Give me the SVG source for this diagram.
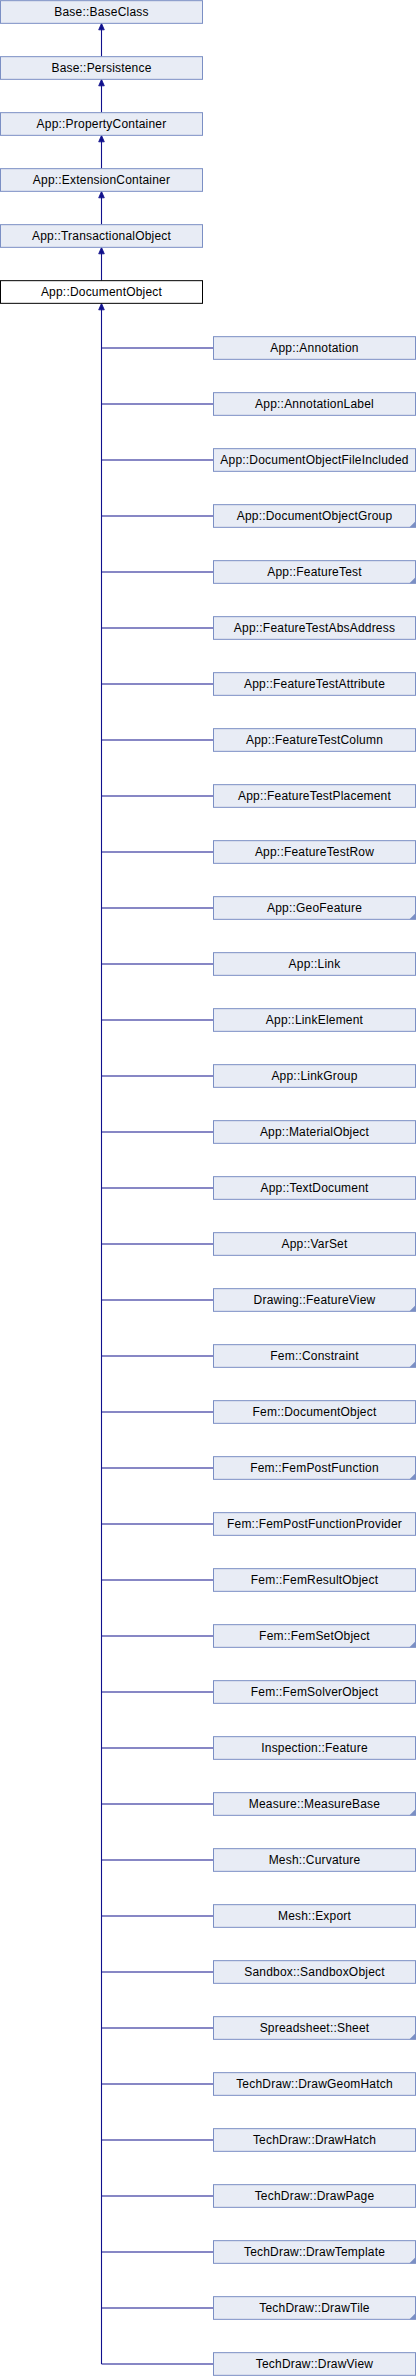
<svg xmlns="http://www.w3.org/2000/svg" xmlns:xlink="http://www.w3.org/1999/xlink" width="416" height="2376" viewBox="0 0 416 2376">
<style>
.n rect{fill:#e8ecf5;stroke:#7b8fc4;stroke-width:1}
.n .fold{fill:#7b8fc4;stroke:none}
.m rect{fill:#ffffff;stroke:#000000;stroke-width:1}
text{font-family:"Liberation Sans",Arial,Helvetica,sans-serif;font-size:12px;letter-spacing:0.2px;text-anchor:middle;fill:#000000}
.e{stroke:#10108c;stroke-width:1.1;fill:none}
.ah{fill:#10108c;stroke:#10108c;stroke-width:0.8}
</style>
<defs>
<path id="ah" d="M0,0 L-2.8,6.5 L2.8,6.5 Z"/>
</defs>
<rect width="416" height="2376" fill="#ffffff"/>
<g id="connectors">
<path class="e" d="M101.5,29 V56.67 M101.5,85 V112.67 M101.5,141 V168.67 M101.5,197 V224.67 M101.5,253 V280.67"/>
<path class="e" d="M101.5,309 V2364"/>
<path class="e" d="M101.5,348 H213.5 M101.5,404 H213.5 M101.5,460 H213.5 M101.5,516 H213.5 M101.5,572 H213.5 M101.5,628 H213.5 M101.5,684 H213.5 M101.5,740 H213.5 M101.5,796 H213.5 M101.5,852 H213.5 M101.5,908 H213.5 M101.5,964 H213.5 M101.5,1020 H213.5 M101.5,1076 H213.5 M101.5,1132 H213.5 M101.5,1188 H213.5 M101.5,1244 H213.5 M101.5,1300 H213.5 M101.5,1356 H213.5 M101.5,1412 H213.5 M101.5,1468 H213.5 M101.5,1524 H213.5 M101.5,1580 H213.5 M101.5,1636 H213.5 M101.5,1692 H213.5 M101.5,1748 H213.5 M101.5,1804 H213.5 M101.5,1860 H213.5 M101.5,1916 H213.5 M101.5,1972 H213.5 M101.5,2028 H213.5 M101.5,2084 H213.5 M101.5,2140 H213.5 M101.5,2196 H213.5 M101.5,2252 H213.5 M101.5,2308 H213.5 M101.5,2364 H213.5"/>
<use class="ah" href="#ah" x="101.5" y="23.33"/>
<use class="ah" href="#ah" x="101.5" y="79.33"/>
<use class="ah" href="#ah" x="101.5" y="135.33"/>
<use class="ah" href="#ah" x="101.5" y="191.33"/>
<use class="ah" href="#ah" x="101.5" y="247.33"/>
<use class="ah" href="#ah" x="101.5" y="303.33"/>
</g>
<g id="node_BaseClass" class="n"><rect x="0.5" y="0.67" width="202" height="22.66"/><text x="101.5" y="15.5">Base::BaseClass</text></g>
<g id="node_Persistence" class="n"><rect x="0.5" y="56.67" width="202" height="22.66"/><text x="101.5" y="71.5">Base::Persistence</text></g>
<g id="node_PropertyContainer" class="n"><rect x="0.5" y="112.67" width="202" height="22.66"/><text x="101.5" y="127.5">App::PropertyContainer</text></g>
<g id="node_ExtensionContainer" class="n"><rect x="0.5" y="168.67" width="202" height="22.66"/><text x="101.5" y="183.5">App::ExtensionContainer</text></g>
<g id="node_TransactionalObject" class="n"><rect x="0.5" y="224.67" width="202" height="22.66"/><text x="101.5" y="239.5">App::TransactionalObject</text></g>
<g id="node_DocumentObject" class="m"><rect x="0.5" y="280.67" width="202" height="22.66"/><text x="101.5" y="295.5">App::DocumentObject</text></g>
<g id="node_Annotation" class="n"><rect x="213.5" y="336.67" width="202" height="22.66"/><text x="314.5" y="351.5">App::Annotation</text></g>
<g id="node_AnnotationLabel" class="n"><rect x="213.5" y="392.67" width="202" height="22.66"/><text x="314.5" y="407.5">App::AnnotationLabel</text></g>
<g id="node_DocumentObjectFileIncluded" class="n"><rect x="213.5" y="448.67" width="202" height="22.66"/><text x="314.5" y="463.5">App::DocumentObjectFileIncluded</text></g>
<g id="node_DocumentObjectGroup" class="n"><rect x="213.5" y="504.67" width="202" height="22.66"/><path class="fold" d="M415.5,521.33 V527.33 H409.5 Z"/><text x="314.5" y="519.5">App::DocumentObjectGroup</text></g>
<g id="node_FeatureTest" class="n"><rect x="213.5" y="560.67" width="202" height="22.66"/><path class="fold" d="M415.5,577.33 V583.33 H409.5 Z"/><text x="314.5" y="575.5">App::FeatureTest</text></g>
<g id="node_FeatureTestAbsAddress" class="n"><rect x="213.5" y="616.67" width="202" height="22.66"/><text x="314.5" y="631.5">App::FeatureTestAbsAddress</text></g>
<g id="node_FeatureTestAttribute" class="n"><rect x="213.5" y="672.67" width="202" height="22.66"/><text x="314.5" y="687.5">App::FeatureTestAttribute</text></g>
<g id="node_FeatureTestColumn" class="n"><rect x="213.5" y="728.67" width="202" height="22.66"/><text x="314.5" y="743.5">App::FeatureTestColumn</text></g>
<g id="node_FeatureTestPlacement" class="n"><rect x="213.5" y="784.67" width="202" height="22.66"/><text x="314.5" y="799.5">App::FeatureTestPlacement</text></g>
<g id="node_FeatureTestRow" class="n"><rect x="213.5" y="840.67" width="202" height="22.66"/><text x="314.5" y="855.5">App::FeatureTestRow</text></g>
<g id="node_GeoFeature" class="n"><rect x="213.5" y="896.67" width="202" height="22.66"/><path class="fold" d="M415.5,913.33 V919.33 H409.5 Z"/><text x="314.5" y="911.5">App::GeoFeature</text></g>
<g id="node_Link" class="n"><rect x="213.5" y="952.67" width="202" height="22.66"/><text x="314.5" y="967.5">App::Link</text></g>
<g id="node_LinkElement" class="n"><rect x="213.5" y="1008.67" width="202" height="22.66"/><text x="314.5" y="1023.5">App::LinkElement</text></g>
<g id="node_LinkGroup" class="n"><rect x="213.5" y="1064.67" width="202" height="22.66"/><text x="314.5" y="1079.5">App::LinkGroup</text></g>
<g id="node_MaterialObject" class="n"><rect x="213.5" y="1120.67" width="202" height="22.66"/><text x="314.5" y="1135.5">App::MaterialObject</text></g>
<g id="node_TextDocument" class="n"><rect x="213.5" y="1176.67" width="202" height="22.66"/><text x="314.5" y="1191.5">App::TextDocument</text></g>
<g id="node_VarSet" class="n"><rect x="213.5" y="1232.67" width="202" height="22.66"/><text x="314.5" y="1247.5">App::VarSet</text></g>
<g id="node_FeatureView" class="n"><rect x="213.5" y="1288.67" width="202" height="22.66"/><path class="fold" d="M415.5,1305.33 V1311.33 H409.5 Z"/><text x="314.5" y="1303.5">Drawing::FeatureView</text></g>
<g id="node_Constraint" class="n"><rect x="213.5" y="1344.67" width="202" height="22.66"/><path class="fold" d="M415.5,1361.33 V1367.33 H409.5 Z"/><text x="314.5" y="1359.5">Fem::Constraint</text></g>
<g id="node_FemDocumentObject" class="n"><rect x="213.5" y="1400.67" width="202" height="22.66"/><text x="314.5" y="1415.5">Fem::DocumentObject</text></g>
<g id="node_FemPostFunction" class="n"><rect x="213.5" y="1456.67" width="202" height="22.66"/><path class="fold" d="M415.5,1473.33 V1479.33 H409.5 Z"/><text x="314.5" y="1471.5">Fem::FemPostFunction</text></g>
<g id="node_FemPostFunctionProvider" class="n"><rect x="213.5" y="1512.67" width="202" height="22.66"/><text x="314.5" y="1527.5">Fem::FemPostFunctionProvider</text></g>
<g id="node_FemResultObject" class="n"><rect x="213.5" y="1568.67" width="202" height="22.66"/><text x="314.5" y="1583.5">Fem::FemResultObject</text></g>
<g id="node_FemSetObject" class="n"><rect x="213.5" y="1624.67" width="202" height="22.66"/><path class="fold" d="M415.5,1641.33 V1647.33 H409.5 Z"/><text x="314.5" y="1639.5">Fem::FemSetObject</text></g>
<g id="node_FemSolverObject" class="n"><rect x="213.5" y="1680.67" width="202" height="22.66"/><text x="314.5" y="1695.5">Fem::FemSolverObject</text></g>
<g id="node_InspectionFeature" class="n"><rect x="213.5" y="1736.67" width="202" height="22.66"/><text x="314.5" y="1751.5">Inspection::Feature</text></g>
<g id="node_MeasureBase" class="n"><rect x="213.5" y="1792.67" width="202" height="22.66"/><path class="fold" d="M415.5,1809.33 V1815.33 H409.5 Z"/><text x="314.5" y="1807.5">Measure::MeasureBase</text></g>
<g id="node_Curvature" class="n"><rect x="213.5" y="1848.67" width="202" height="22.66"/><text x="314.5" y="1863.5">Mesh::Curvature</text></g>
<g id="node_Export" class="n"><rect x="213.5" y="1904.67" width="202" height="22.66"/><text x="314.5" y="1919.5">Mesh::Export</text></g>
<g id="node_SandboxObject" class="n"><rect x="213.5" y="1960.67" width="202" height="22.66"/><text x="314.5" y="1975.5">Sandbox::SandboxObject</text></g>
<g id="node_Sheet" class="n"><rect x="213.5" y="2016.67" width="202" height="22.66"/><path class="fold" d="M415.5,2033.33 V2039.33 H409.5 Z"/><text x="314.5" y="2031.5">Spreadsheet::Sheet</text></g>
<g id="node_DrawGeomHatch" class="n"><rect x="213.5" y="2072.67" width="202" height="22.66"/><text x="314.5" y="2087.5">TechDraw::DrawGeomHatch</text></g>
<g id="node_DrawHatch" class="n"><rect x="213.5" y="2128.67" width="202" height="22.66"/><text x="314.5" y="2143.5">TechDraw::DrawHatch</text></g>
<g id="node_DrawPage" class="n"><rect x="213.5" y="2184.67" width="202" height="22.66"/><text x="314.5" y="2199.5">TechDraw::DrawPage</text></g>
<g id="node_DrawTemplate" class="n"><rect x="213.5" y="2240.67" width="202" height="22.66"/><path class="fold" d="M415.5,2257.33 V2263.33 H409.5 Z"/><text x="314.5" y="2255.5">TechDraw::DrawTemplate</text></g>
<g id="node_DrawTile" class="n"><rect x="213.5" y="2296.67" width="202" height="22.66"/><path class="fold" d="M415.5,2313.33 V2319.33 H409.5 Z"/><text x="314.5" y="2311.5">TechDraw::DrawTile</text></g>
<g id="node_DrawView" class="n"><rect x="213.5" y="2352.67" width="202" height="22.66"/><text x="314.5" y="2367.5">TechDraw::DrawView</text></g>
</svg>
